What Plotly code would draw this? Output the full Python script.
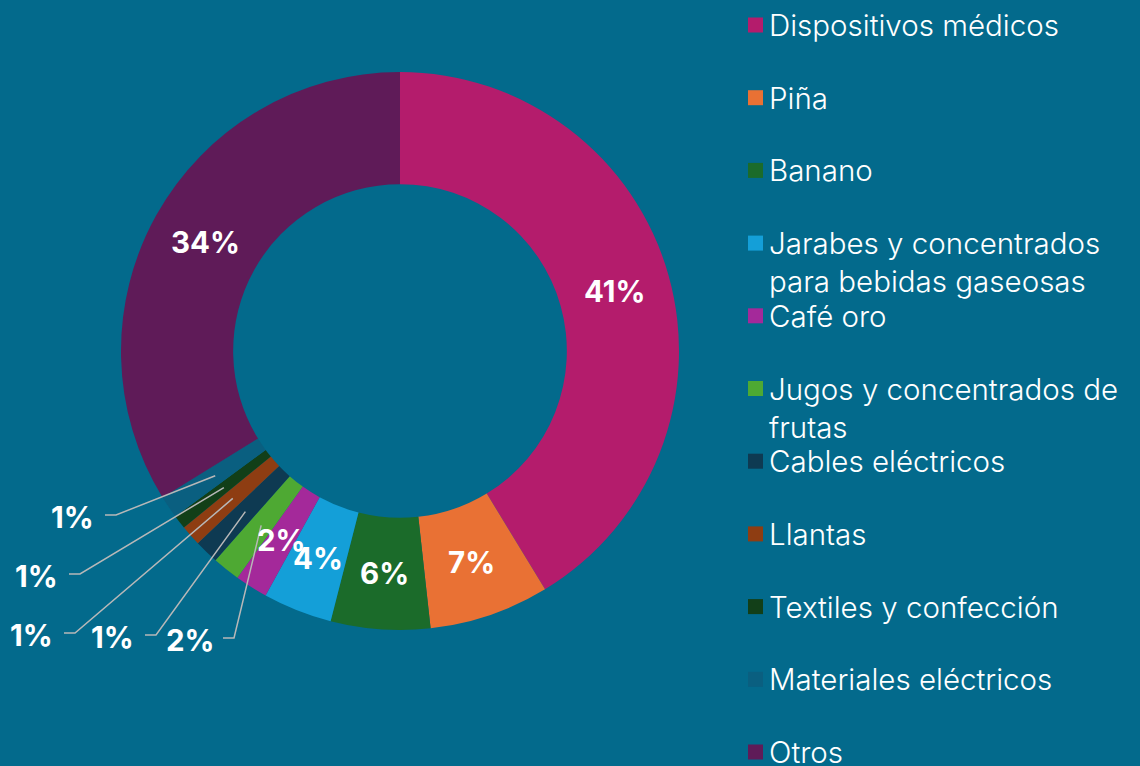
import numpy as np
import plotly.graph_objects as go

# data (percent of total)
categories = [
    "Dispositivos médicos",
    "Piña",
    "Banano",
    "Jarabes y concentrados<br>para bebidas gaseosas",
    "Café oro",
    "Jugos y concentrados de<br>frutas",
    "Cables eléctricos",
    "Llantas",
    "Textiles y confección",
    "Materiales eléctricos",
    "Otros",
]
values = [41.3, 6.95, 5.75, 4.0, 1.9, 1.6, 1.4, 1.2, 0.8, 1.3, 33.8]
colors = [
    "#b41c6c",
    "#e97134",
    "#1b6b2a",
    "#149fd8",
    "#a4299a",
    "#4ea933",
    "#0e3a52",
    "#8e3d12",
    "#123f18",
    "#0a5f80",
    "#5f1b58",
]
# which slices get their label outside with a leader line
outside = [False, False, False, False, False, True, True, True, True, True, False]

W, H = 1140, 766
BG = "#036a8c"
CX, CY, R = 400, 351, 279  # pie centre / radius in px
HOLE = 0.598
MID_R = R * (1 + HOLE) / 2

# outside label text centres (px), in slice order of the outside ones
out_pos = [(190, 640), (112, 637), (31, 635), (36, 576), (72, 517)]

num_font = dict(family="Inter", size=29.5, color="white", weight=700)
leg_font = dict(family="Inter", size=29.5, color="white", weight=300)


def px(x, y):
    return x / W, (H - y) / H


fig = go.Figure(
    go.Pie(
        labels=[c.replace("<br>", " ") for c in categories],
        values=values,
        marker=dict(colors=colors, line=dict(width=0)),
        hole=HOLE,
        sort=False,
        direction="clockwise",
        textinfo="none",
        hoverinfo="label+percent",
        showlegend=False,
        domain=dict(x=[(CX - R) / W, (CX + R) / W], y=[(H - CY - R) / H, (H - CY + R) / H]),
    )
)

total = sum(values)
cum = np.cumsum([0] + values) / total
annotations = []
shapes = []
k = 0
for i, v in enumerate(values):
    mid = (cum[i] + cum[i + 1]) / 2 * 2 * np.pi
    sx = CX + MID_R * np.sin(mid)
    sy = CY - MID_R * np.cos(mid)
    txt = "{:.0f}%".format(v / total * 100)
    if not outside[i]:
        x, y = px(sx, sy)
    else:
        tx, ty = out_pos[k]
        k += 1
        x, y = px(tx, ty)
        x0, y0 = px(tx + 33, ty - 2)
        x1, y1 = px(tx + 44, ty - 2)
        x2, y2 = px(sx, sy)
        shapes.append(
            dict(type="path", xref="paper", yref="paper",
                 path="M {} {} L {} {} L {} {}".format(x0, y0, x1, y1, x2, y2),
                 line=dict(color="#b8b8b8", width=1.5))
        )
    annotations.append(
        dict(x=x, y=y, xref="paper", yref="paper", text=txt, showarrow=False,
             font=num_font, xanchor="center", yanchor="middle")
    )

# legend on the right
for i, (cat, col) in enumerate(zip(categories, colors)):
    yc = 25 + 72.7 * i
    x0, y0 = px(748, yc - 7.5)
    x1, y1 = px(763, yc + 7.5)
    shapes.append(dict(type="rect", xref="paper", yref="paper", x0=x0, y0=y0, x1=x1, y1=y1,
                       fillcolor=col, line=dict(width=0)))
    x, y = px(767, yc - 20)
    annotations.append(
        dict(x=x, y=y, xref="paper", yref="paper", text=cat, showarrow=False,
             font=leg_font, xanchor="left", yanchor="top", align="left")
    )

fig.update_layout(
    width=W,
    height=H,
    margin=dict(l=0, r=0, t=0, b=0),
    paper_bgcolor=BG,
    plot_bgcolor=BG,
    annotations=annotations,
    shapes=shapes,
)

fig.write_html(
    "out.html",
    config={"displayModeBar": False},
    post_script="document.body.style.margin='0';",
)
